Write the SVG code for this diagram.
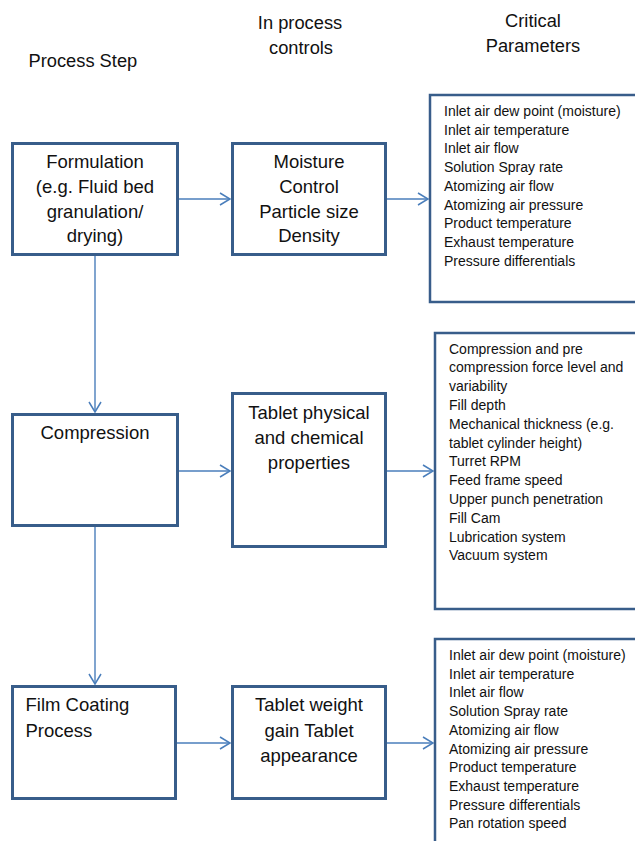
<svg xmlns="http://www.w3.org/2000/svg" width="635" height="841" viewBox="0 0 635 841">
  <style>
    text { font-family: "Liberation Sans", Arial, Helvetica, sans-serif; fill: #111; }
    .hdr { font-size: 18.3px; }
    .big { font-size: 18.5px; }
    .small { font-size: 14px; }
    .mid { text-anchor: middle; }
    .box { fill: #fff; stroke: #385d8a; stroke-width: 3; }
    .pbox { fill: #fff; stroke: #385d8a; stroke-width: 2.5; }
    .conn { stroke: #4a7ebb; stroke-width: 1.4; fill: none; }
  </style>
  <defs>
    <marker id="arr" markerUnits="userSpaceOnUse" markerWidth="14" markerHeight="14" viewBox="-12 -7 14 14" refX="0" refY="0" orient="auto">
      <path d="M-10,-6 L0,0 L-10,6" fill="none" stroke="#4a7ebb" stroke-width="1.5"/>
    </marker>
  </defs>

  <g id="headers">
    <text class="hdr" x="28.5" y="67">Process Step</text>
    <text class="hdr mid" x="300" y="29">In process</text>
    <text class="hdr mid" x="301" y="54">controls</text>
    <text class="hdr mid" x="533" y="27">Critical</text>
    <text class="hdr mid" x="533" y="52">Parameters</text>
  </g>

  <g id="connectors">
    <line class="conn" x1="95" y1="256" x2="95" y2="412" marker-end="url(#arr)"/>
    <line class="conn" x1="95" y1="527" x2="95" y2="684" marker-end="url(#arr)"/>
    <line class="conn" x1="179" y1="199" x2="230" y2="199" marker-end="url(#arr)"/>
    <line class="conn" x1="387" y1="199" x2="428" y2="199" marker-end="url(#arr)"/>
    <line class="conn" x1="179" y1="471" x2="230" y2="471" marker-end="url(#arr)"/>
    <line class="conn" x1="387" y1="471" x2="433" y2="471" marker-end="url(#arr)"/>
    <line class="conn" x1="177" y1="743" x2="230" y2="743" marker-end="url(#arr)"/>
    <line class="conn" x1="387" y1="743" x2="433" y2="743" marker-end="url(#arr)"/>
  </g>

  <g id="formulation">
    <rect class="box" x="12.5" y="143.5" width="165" height="111"/>
    <text class="big mid" x="95" y="168">Formulation</text>
    <text class="big mid" x="95" y="192.5">(e.g. Fluid bed</text>
    <text class="big mid" x="95" y="217.5">granulation/</text>
    <text class="big mid" x="95" y="242">drying)</text>
  </g>

  <g id="moisture">
    <rect class="box" x="232.5" y="143.5" width="153" height="111"/>
    <text class="big mid" x="309" y="168">Moisture</text>
    <text class="big mid" x="309" y="192.5">Control</text>
    <text class="big mid" x="309" y="217.5">Particle size</text>
    <text class="big mid" x="309" y="242">Density</text>
  </g>

  <g id="params1">
    <rect class="pbox" x="430" y="95" width="215" height="207"/>
    <text class="small" x="444" y="116">Inlet air dew point (moisture)</text>
    <text class="small" x="444" y="134.7">Inlet air temperature</text>
    <text class="small" x="444" y="153.4">Inlet air flow</text>
    <text class="small" x="444" y="172.1">Solution Spray rate</text>
    <text class="small" x="444" y="190.8">Atomizing air flow</text>
    <text class="small" x="444" y="209.5">Atomizing air pressure</text>
    <text class="small" x="444" y="228.2">Product temperature</text>
    <text class="small" x="444" y="246.9">Exhaust temperature</text>
    <text class="small" x="444" y="265.6">Pressure differentials</text>
  </g>

  <g id="compression">
    <rect class="box" x="12.5" y="414.5" width="165" height="111"/>
    <text class="big mid" x="95" y="439">Compression</text>
  </g>

  <g id="tablet-physical">
    <rect class="box" x="232.5" y="393.5" width="153" height="153"/>
    <text class="big mid" x="309" y="419">Tablet physical</text>
    <text class="big mid" x="309" y="444">and chemical</text>
    <text class="big mid" x="309" y="469">properties</text>
  </g>

  <g id="params2">
    <rect class="pbox" x="435" y="333" width="210" height="276"/>
    <text class="small" x="449" y="353.5">Compression and pre</text>
    <text class="small" x="449" y="372.3">compression force level and</text>
    <text class="small" x="449" y="391.1">variability</text>
    <text class="small" x="449" y="409.9">Fill depth</text>
    <text class="small" x="449" y="428.7">Mechanical thickness (e.g.</text>
    <text class="small" x="449" y="447.5">tablet cylinder height)</text>
    <text class="small" x="449" y="466.3">Turret RPM</text>
    <text class="small" x="449" y="485.1">Feed frame speed</text>
    <text class="small" x="449" y="503.9">Upper punch penetration</text>
    <text class="small" x="449" y="522.7">Fill Cam</text>
    <text class="small" x="449" y="541.5">Lubrication system</text>
    <text class="small" x="449" y="560.3">Vacuum system</text>
  </g>

  <g id="film-coating">
    <rect class="box" x="12.5" y="686.5" width="163" height="112"/>
    <text class="big" x="25.5" y="711">Film Coating</text>
    <text class="big" x="25.5" y="736.5">Process</text>
  </g>

  <g id="tablet-weight">
    <rect class="box" x="232.5" y="686.5" width="153" height="112"/>
    <text class="big mid" x="309" y="711">Tablet weight</text>
    <text class="big mid" x="309" y="736.5">gain Tablet</text>
    <text class="big mid" x="309" y="761.5">appearance</text>
  </g>

  <g id="params3">
    <rect class="pbox" x="435" y="639" width="210" height="230"/>
    <text class="small" x="449" y="660">Inlet air dew point (moisture)</text>
    <text class="small" x="449" y="678.7">Inlet air temperature</text>
    <text class="small" x="449" y="697.4">Inlet air flow</text>
    <text class="small" x="449" y="716.1">Solution Spray rate</text>
    <text class="small" x="449" y="734.8">Atomizing air flow</text>
    <text class="small" x="449" y="753.5">Atomizing air pressure</text>
    <text class="small" x="449" y="772.2">Product temperature</text>
    <text class="small" x="449" y="790.9">Exhaust temperature</text>
    <text class="small" x="449" y="809.6">Pressure differentials</text>
    <text class="small" x="449" y="828.3">Pan rotation speed</text>
  </g>
</svg>
